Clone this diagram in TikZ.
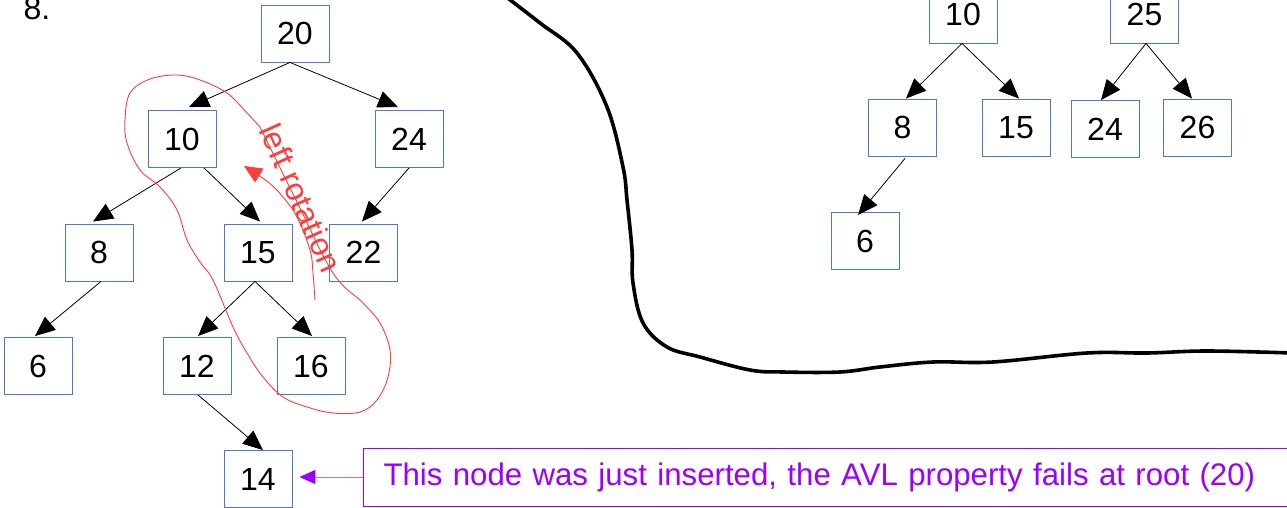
\documentclass[tikz,border=0pt]{standalone}
\usepackage{fontspec}
\setmainfont{Liberation Sans}
\usetikzlibrary{arrows.meta}
\definecolor{boxblue}{RGB}{74,122,200}
\definecolor{avlpurple}{RGB}{153,0,255}
\definecolor{rotred}{RGB}{255,60,60}
\begin{document}
\begin{tikzpicture}[x=1pt,y=-1pt,
  keybox/.style={draw=boxblue,line width=0.9pt,minimum width=68pt,minimum height=57pt,inner sep=0pt,font=\fontsize{32}{38}\selectfont},
  edge/.style={draw=black,line width=0.8pt,-{Triangle[length=20pt,width=17pt]}},
  redline/.style={draw=rotred,line width=0.9pt},
 ]
\useasboundingbox (0,0) rectangle (1287,508);
% label
\node[font=\fontsize{32}{38}\selectfont,anchor=base west,inner sep=0pt] (num) at (23.5,20) {8.};
% left tree
\node[keybox] (l20) at (295,33.5) {20};
\node[keybox] (l10) at (182,139) {10};
\node[keybox] (l24) at (409,139) {24};
\node[keybox] (l8) at (99,252.5) {8};
\node[keybox] (l15) at (258,252.5) {15};
\node[keybox] (l22) at (363.5,252.5) {22};
\node[keybox] (l6) at (38,366) {6};
\node[keybox] (l12) at (197,366) {12};
\node[keybox] (l16) at (311,366) {16};
\node[keybox] (l14) at (258,479) {14};
% right tree
\node[keybox] (r10) at (963,14.5) {10};
\node[keybox] (r25) at (1144.5,14.5) {25};
\node[keybox] (r8) at (902.5,127.5) {8};
\node[keybox] (r15) at (1016,127.5) {15};
\node[keybox] (r24) at (1105,129) {24};
\node[keybox] (r26) at (1197.5,127.5) {26};
\node[keybox] (r6) at (865,241) {6};
% left edges
\draw[edge] ([xshift=-5pt]l20.south) -- ([xshift=7pt,yshift=3pt]l10.north);
\draw[edge] ([xshift=-5pt]l20.south) -- ([xshift=-11pt,yshift=3pt]l24.north);
\draw[edge] ([xshift=-1pt]l10.south) -- ([xshift=-6pt,yshift=2pt]l8.north);
\draw[edge] ([xshift=22pt]l10.south) -- ([xshift=2pt,yshift=2pt]l15.north);
\draw[edge] (l24.south) -- ([xshift=-1.5pt,yshift=2pt]l22.north);
\draw[edge] ([xshift=2pt]l8.south) -- ([xshift=-3pt,yshift=1pt]l6.north);
\draw[edge] ([xshift=-3pt]l15.south) -- ([xshift=1pt,yshift=1pt]l12.north);
\draw[edge] ([xshift=-3pt]l15.south) -- ([xshift=1pt,yshift=1pt]l16.north);
\draw[edge] ([xshift=1pt]l12.south) -- ([xshift=5pt,yshift=0pt]l14.north);
% right edges
\draw[edge] ([xshift=-1pt]r10.south) -- ([xshift=3.5pt]r8.north);
\draw[edge] ([xshift=-1pt]r10.south) -- ([xshift=3pt]r15.north);
\draw[edge] ([xshift=1.5pt]r25.south) -- ([xshift=-4pt]r24.north);
\draw[edge] ([xshift=1.5pt]r25.south) -- ([xshift=-5.5pt]r26.north);
\draw[edge] ([xshift=2.5pt,yshift=-2pt]r8.south) -- ([xshift=-7pt,yshift=-3pt]r6.north);
% black separating curve
\draw[line width=3.6pt,line cap=round,line join=round] plot[smooth,tension=0.6] coordinates {(505,-4) (540,23) (577,53) (607,107) (623,167) (627,200) (632,250) (633,283) (643,323) (667,347) (700,357) (750,370) (783,372) (840,372) (880,367) (933,362) (993,362) (1087,353) (1147,353) (1207,351) (1292,353)};
% red loop
\draw[redline] plot[smooth,tension=0.6] coordinates {(260,127) (247,113) (227,93) (200,80) (177,75) (150,79) (130,93) (125,120) (127,143) (140,170) (160,187) (177,210) (187,240) (200,262) (213,280) (233,327) (247,353) (263,377) (283,397) (307,407) (333,413) (360,412) (377,400) (388,377) (390,350) (380,323) (363,303) (333,273) (296,200) (260,127)};
% red arrow
\draw[redline,-{Triangle[length=18pt,width=16pt]}] plot[smooth,tension=0.6] coordinates {(315,300) (313,273) (310,250) (297,217) (283,197) (268,182) (244,166)};
\node[text=rotred,rotate=-66,font=\fontsize{32}{36}\selectfont,inner sep=0pt] (rot) at (301,198) {left rotation};
% callout
\node[draw=avlpurple,line width=1pt,text=avlpurple,font=\fontsize{31.2}{38}\selectfont,anchor=west,inner xsep=20pt,inner ysep=0pt,minimum height=58pt,text width=905pt,align=left] (note) at (363,477) {This node was just inserted, the AVL property fails at root (20)};
\draw[draw=avlpurple!60,line width=1pt,-{Triangle[length=16pt,width=14pt,color=avlpurple]}] (note.west) -- ([xshift=7pt,yshift=2pt]l14.east);
\end{tikzpicture}
\end{document}
